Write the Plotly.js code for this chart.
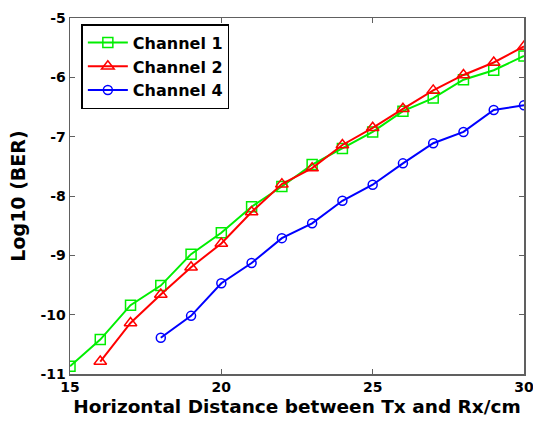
<!DOCTYPE html>
<html>
<head>
<meta charset="utf-8">
<script src="https://cdn.plot.ly/plotly-3.0.1.min.js"></script>
<style>html,body{margin:0;padding:0;background:#fff;}#chart{width:533px;height:422px;}</style>
</head>
<body>
<div id="chart"></div>
<script>
const xCh1 = [15,16,17,18,19,20,21,22,23,24,25,26,27,28,29,30];
const yCh1 = [-10.87,-10.42,-9.84,-9.51,-8.98,-8.62,-8.18,-7.84,-7.47,-7.20,-6.92,-6.57,-6.35,-6.04,-5.88,-5.64];
const xCh2 = [16,17,18,19,20,21,22,23,24,25,26,27,28,29,30];
const yCh2 = [-10.79,-10.14,-9.66,-9.20,-8.80,-8.27,-7.80,-7.53,-7.14,-6.85,-6.53,-6.22,-5.96,-5.75,-5.48];
const xCh4 = [18,19,20,21,22,23,24,25,26,27,28,29,30];
const yCh4 = [-10.39,-10.02,-9.47,-9.13,-8.71,-8.46,-8.08,-7.81,-7.45,-7.11,-6.92,-6.55,-6.47];
const seriesNames = ['Channel 1','Channel 2','Channel 4'];
const xTicks = [15,20,25,30];
const yTicks = [-11,-10,-9,-8,-7,-6,-5];

const fontFam = '"DejaVu Sans", Verdana, sans-serif';
function tr(x,y,name,color,symbol,size){
  return {x:x,y:y,name:name,type:'scatter',mode:'lines+markers',
    line:{color:color,width:2},
    marker:{symbol:symbol,size:size,color:color,line:{color:color,width:1.5}}};
}
const data = [
  tr(xCh1,yCh1,seriesNames[0],'#00ee00','square-open',10),
  tr(xCh2,yCh2,seriesNames[1],'#ff0000','triangle-up-open',11),
  tr(xCh4,yCh4,seriesNames[2],'#0000ff','circle-open',9)
];
const axisCommon = {showgrid:false,zeroline:false,showline:true,mirror:'ticks',
  linecolor:'#606060',linewidth:1.5,ticks:'inside',ticklen:5,tickcolor:'#606060',
  ticklabeloverflow:'allow',
  tickfont:{family:fontFam,size:14,color:'#000',weight:'bold'}};
const layout = {
  width:533,height:422,
  margin:{l:70,r:9,t:18,b:48},
  paper_bgcolor:'#fff',plot_bgcolor:'#fff',
  showlegend:true,
  legend:{x:0.025,y:0.983,xanchor:'left',yanchor:'top',bgcolor:'#fff',
    bordercolor:'#000',borderwidth:1.5,
    font:{family:fontFam,size:16,color:'#000',weight:'bold'},
    tracegroupgap:0,itemwidth:40},
  xaxis:Object.assign({},axisCommon,{range:[15,30],tickvals:xTicks,ticktext:xTicks.map(String),
    title:{text:'Horizontal Distance between Tx and Rx/cm',font:{family:fontFam,size:18.5,color:'#000',weight:'bold'},standoff:6}}),
  yaxis:Object.assign({},axisCommon,{range:[-11,-5],tickvals:yTicks,ticktext:yTicks.map(String),
    title:{text:'Log10 (BER)',font:{family:fontFam,size:19,color:'#000',weight:'bold'},standoff:10}})
};
Plotly.newPlot('chart',data,layout,{displayModeBar:false,staticPlot:true});
</script>
</body>
</html>
